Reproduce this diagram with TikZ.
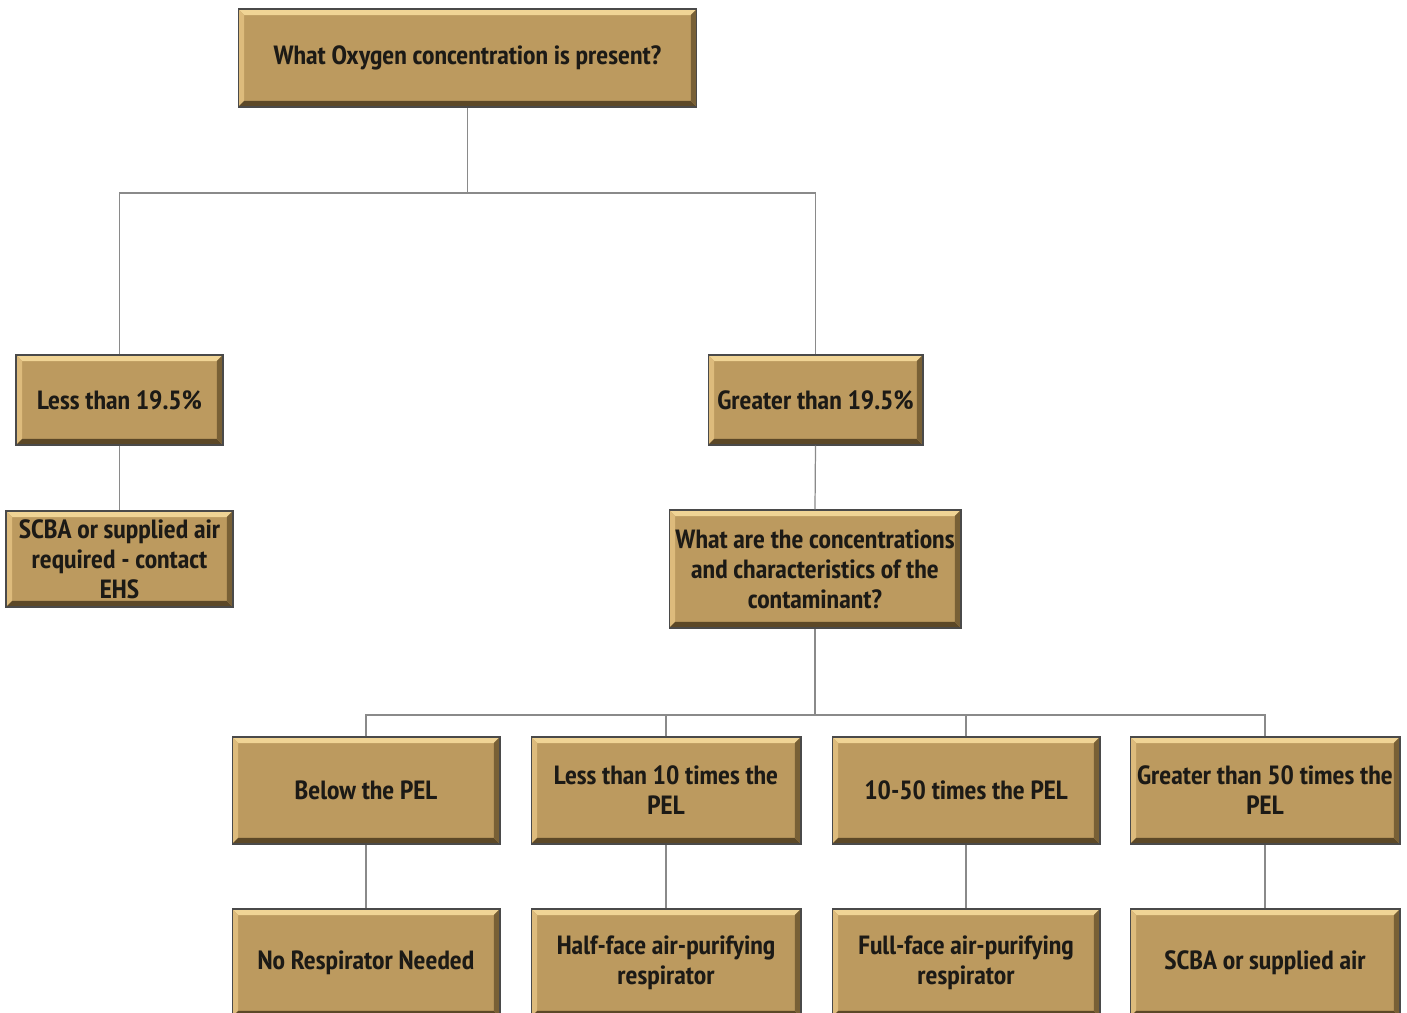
\documentclass[tikz,border=0pt]{standalone}
\usepackage{fontspec}
\setmainfont{PT Sans Narrow}[FakeStretch=1.06]
\usepackage{tikz}
\usetikzlibrary{calc}

\definecolor{boxfill}{HTML}{BC9A5F}
\definecolor{boxline}{HTML}{4A4A4A}
\definecolor{boxtext}{HTML}{1C1A16}
\definecolor{bevtop}{HTML}{F0D495}
\definecolor{bevleft}{HTML}{DDBB7C}
\definecolor{bevbot}{HTML}{5C4827}
\definecolor{bevright}{HTML}{786036}
\definecolor{wire}{HTML}{8A8A8A}

\newcommand{\bevw}{0.12cm}
\newcommand{\boxfont}{\bfseries\fontsize{15}{17}\selectfont}

\tikzset{
  pelbox/.style={draw=boxline, line width=0.6pt, fill=boxfill, text=boxtext,
    align=center, inner sep=1pt, font=\boxfont,
    path picture={
      \fill[bevtop] (path picture bounding box.north west) -- (path picture bounding box.north east)
        -- ([shift={(-\bevw,-\bevw)}]path picture bounding box.north east)
        -- ([shift={(\bevw,-\bevw)}]path picture bounding box.north west) -- cycle;
      \fill[bevleft] (path picture bounding box.north west) -- (path picture bounding box.south west)
        -- ([shift={(\bevw,\bevw)}]path picture bounding box.south west)
        -- ([shift={(\bevw,-\bevw)}]path picture bounding box.north west) -- cycle;
      \fill[bevbot] (path picture bounding box.south west) -- (path picture bounding box.south east)
        -- ([shift={(-\bevw,\bevw)}]path picture bounding box.south east)
        -- ([shift={(\bevw,\bevw)}]path picture bounding box.south west) -- cycle;
      \fill[bevright] (path picture bounding box.north east) -- (path picture bounding box.south east)
        -- ([shift={(-\bevw,\bevw)}]path picture bounding box.south east)
        -- ([shift={(-\bevw,-\bevw)}]path picture bounding box.north east) -- cycle;
    }},
  wireline/.style={draw=wire, line width=0.7pt}
}

\begin{document}
\begin{tikzpicture}[x=0.02cm, y=-0.02cm]
\useasboundingbox[fill=white] (0,0) rectangle (1407,1013);

% question about oxygen
\node[pelbox, minimum width=9.18cm, minimum height=1.96cm] (oxygen) at (467.5,58) {What Oxygen concentration is present?};
\node[pelbox, minimum width=4.14cm, minimum height=1.8cm] (lowox) at (119.5,400) {Less than 19.5\%};
\node[pelbox, minimum width=4.3cm, minimum height=1.8cm] (highox) at (815.5,400) {Greater than 19.5\%};
\node[pelbox, minimum width=4.54cm, minimum height=1.92cm] (scbaehs) at (119.5,559) {SCBA or supplied air\\required - contact\\EHS};
\node[pelbox, minimum width=5.84cm, minimum height=2.36cm] (contam) at (815,569) {What are the concentrations\\and characteristics of the\\contaminant?};

% concentration ranges
\node[pelbox, minimum width=5.36cm, minimum height=2.14cm] (belowpel) at (366,790.5) {Below the PEL};
\node[pelbox, minimum width=5.4cm, minimum height=2.14cm] (tenpel) at (666,790.5) {Less than 10 times the\\PEL};
\node[pelbox, minimum width=5.36cm, minimum height=2.14cm] (fiftypel) at (966,790.5) {10-50 times the PEL};
\node[pelbox, minimum width=5.4cm, minimum height=2.14cm] (overpel) at (1265,790.5) {Greater than 50 times the\\PEL};

% respirators
\node[pelbox, minimum width=5.36cm, minimum height=2.16cm] (noresp) at (366,963) {No Respirator Needed};
\node[pelbox, minimum width=5.4cm, minimum height=2.16cm] (halfface) at (666,963) {Half-face air-purifying\\respirator};
\node[pelbox, minimum width=5.36cm, minimum height=2.16cm] (fullface) at (966,963) {Full-face air-purifying\\respirator};
\node[pelbox, minimum width=5.4cm, minimum height=2.16cm] (scbaair) at (1265,963) {SCBA or supplied air};

% connectors
\coordinate (oxbus) at (467.5,193);
\coordinate (pelbus) at (815,715);
\draw[wireline] (oxygen.south) -- (oxbus);
\draw[wireline] (lowox.north) |- (oxbus) -| (highox.north);
\draw[wireline] (lowox.south) -- (scbaehs.north);
\draw[wireline] (highox.south) -- (contam.north);
\draw[wireline] (contam.south) -- (pelbus);
\draw[wireline] (belowpel.north) |- (pelbus) -| (overpel.north);
\draw[wireline] (tenpel.north) -- (tenpel.north |- pelbus);
\draw[wireline] (fiftypel.north) -- (fiftypel.north |- pelbus);
\draw[wireline] (belowpel.south) -- (noresp.north);
\draw[wireline] (tenpel.south) -- (halfface.north);
\draw[wireline] (fiftypel.south) -- (fullface.north);
\draw[wireline] (overpel.south) -- (scbaair.north);
\end{tikzpicture}
\end{document}
